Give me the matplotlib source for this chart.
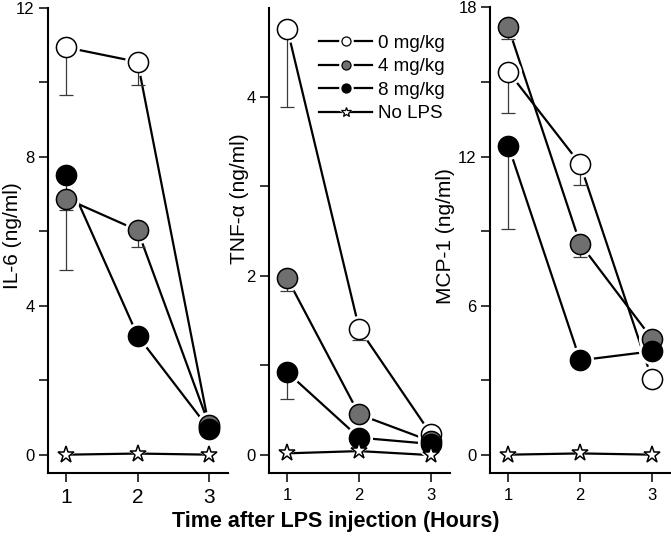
import numpy as np
import matplotlib
matplotlib.use("Agg")
import matplotlib.pyplot as plt
from matplotlib.lines import Line2D
from matplotlib.legend_handler import HandlerTuple

plt.rcParams['font.family'] = ['Liberation Sans', 'DejaVu Sans']

hours = [1, 2, 3]
series_names = ["0 mg/kg", "4 mg/kg", "8 mg/kg", "No LPS"]

# IL-6 (ng/ml)
il6_0 = [10.93, 10.54, 0.75]
il6_4 = [6.87, 6.02, 0.80]
il6_8 = [7.50, 3.19, 0.69]
il6_nolps = [0.0, 0.03, 0.0]
il6_err_0 = [1.28, 0.61, 0.0]
il6_err_4 = [1.92, 0.45, 0.0]
il6_err_8 = [0.94, 0.0, 0.0]

# TNF-alpha (ng/ml)
tnf_0 = [4.76, 1.41, 0.23]
tnf_4 = [1.97, 0.45, 0.15]
tnf_8 = [0.92, 0.19, 0.12]
tnf_nolps = [0.015, 0.04, -0.005]
tnf_err_0 = [0.87, 0.13, 0.0]
tnf_err_4 = [0.14, 0.06, 0.0]
tnf_err_8 = [0.30, 0.0, 0.0]

# MCP-1 (ng/ml)
mcp_0 = [15.42, 11.70, 3.05]
mcp_4 = [17.20, 8.49, 4.67]
mcp_8 = [12.44, 3.80, 4.16]
mcp_nolps = [0.0, 0.05, 0.0]
mcp_err_0 = [1.67, 0.85, 0.32]
mcp_err_4 = [0.46, 0.53, 0.0]
mcp_err_8 = [3.37, 0.0, 0.0]

panels = [
    dict(label="IL-6 (ng/ml)", vals=[il6_0, il6_4, il6_8, il6_nolps],
         errs=[il6_err_0, il6_err_4, il6_err_8], ymax=12, major=[0, 4, 8, 12], minor=[2, 6, 10]),
    dict(label="TNF-\u03b1 (ng/ml)", vals=[tnf_0, tnf_4, tnf_8, tnf_nolps],
         errs=[tnf_err_0, tnf_err_4, tnf_err_8], ymax=5, major=[0, 2, 4], minor=[1, 3]),
    dict(label="MCP-1 (ng/ml)", vals=[mcp_0, mcp_4, mcp_8, mcp_nolps],
         errs=[mcp_err_0, mcp_err_4, mcp_err_8], ymax=18, major=[0, 6, 12, 18], minor=[3, 9, 15]),
]

GRAY = '#6f6f6f'
styles = [
    dict(marker='o', mfc='white', ms=14.5),
    dict(marker='o', mfc=GRAY, ms=14.5),
    dict(marker='o', mfc='black', ms=14.5),
    dict(marker='*', mfc='white', ms=12.5),
]

W, H = 671, 540
fig = plt.figure(figsize=(W / 100, H / 100), dpi=100)
lefts = [48, 269, 490]
widths = [180, 181, 181]
ylabel_x = [22, 249, 455]
ylabel_y = [0.51, 0.59, 0.51]
xtick_sizes = [15, 12, 12]
axes = []
for i, p in enumerate(panels):
    ax = fig.add_axes([lefts[i] / W, 1 - 473 / H, widths[i] / W, 465.5 / H])
    axes.append(ax)
    for k, (vals, st) in enumerate(zip(p['vals'], styles)):
        ax.plot(hours, vals, color='black', lw=1.6, zorder=2)
        ax.plot(hours, vals, ls='none', marker=st['marker'], ms=st['ms'] + 5,
                mfc='white', mec='white', mew=0, zorder=3)
    for k, (vals, st) in enumerate(zip(p['vals'][:3], styles[:3])):
        err = p['errs'][k]
        xs = [h for h, e in zip(hours, err) if e > 0]
        ys = [v for v, e in zip(vals, err) if e > 0]
        es = [e for e in err if e > 0]
        if xs:
            ax.errorbar(xs, ys, yerr=[es, [0] * len(es)], fmt='none', ecolor='#3a3a3a',
                        elinewidth=0.9, capsize=5, capthick=0.9, zorder=3.5)
    for k, (vals, st) in enumerate(zip(p['vals'], styles)):
        ax.plot(hours, vals, ls='none', marker=st['marker'], ms=st['ms'],
                mfc=st['mfc'], mec='black', mew=1.1, zorder=4)
    ax.set_xlim(0.745, 3.265)
    ymax = p['ymax']
    ax.set_ylim(-0.041 * ymax, ymax)
    ax.set_xticks(hours)
    ax.set_yticks(p['major'])
    ax.set_yticks(p['minor'], minor=True)
    for s in ['top', 'right']:
        ax.spines[s].set_visible(False)
    for s in ['left', 'bottom']:
        ax.spines[s].set_linewidth(1.5)
    ax.tick_params(which='both', direction='out', length=6.5, width=1.1)
    ax.tick_params(axis='y', labelsize=12, pad=3)
    ax.tick_params(axis='x', labelsize=xtick_sizes[i], pad=4)
    ax.set_ylabel(p['label'], fontsize=15)
    ax.yaxis.set_label_coords((ylabel_x[i] - lefts[i]) / widths[i], ylabel_y[i])

# Legend in middle panel
handles = []
for st in styles:
    ln = Line2D([], [], color='black', lw=1.6)
    ms_small = 6.5 if st['marker'] == 'o' else 7.5
    halo = Line2D([], [], ls='none', marker=st['marker'], ms=ms_small + 4,
                  mfc='white', mec='white', mew=0)
    mk = Line2D([], [], ls='none', marker=st['marker'], ms=ms_small,
                mfc=st['mfc'], mec='black', mew=0.9)
    handles.append((ln, halo, mk))
axes[1].legend(handles, series_names, loc='upper left', bbox_to_anchor=(0.276, 0.942),
               frameon=False, fontsize=13.5, handlelength=2.85, handletextpad=0.28,
               labelspacing=0.34, borderpad=0, borderaxespad=0,
               handler_map={tuple: HandlerTuple(ndivide=1, pad=0)})

fig.text(336 / W, 1 - 522 / H, "Time after LPS injection (Hours)", ha='center', va='center',
         fontsize=15.5, fontweight='bold')

fig.savefig("out.png", dpi=100)
